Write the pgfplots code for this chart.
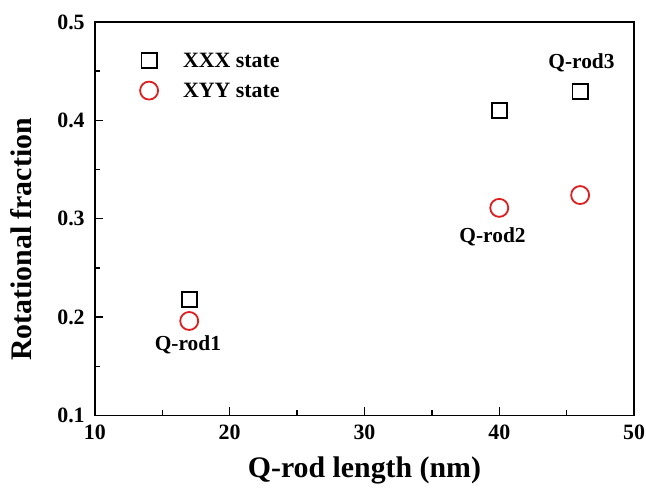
\documentclass[border=0pt]{standalone}
\usepackage{fontspec}
\setmainfont{Liberation Serif}
\usepackage{pgfplots}
\pgfplotsset{compat=1.18}
\definecolor{qred}{RGB}{222,30,30}
\begin{document}
\begin{tikzpicture}[x=1bp,y=1bp]
\begin{axis}[
    name=ax,
    scale only axis,
    width=540bp, height=394bp,
    xmin=10, xmax=50, ymin=0.1, ymax=0.5,
    xtick={10,20,30,40,50},
    ytick={0.1,0.2,0.3,0.4,0.5},
    yticklabel style={/pgf/number format/fixed,/pgf/number format/precision=1,
        inner sep=1bp, xshift=-9bp},
    xticklabel style={inner sep=1bp, yshift=-8.5bp},
    minor tick num=1,
    tick pos=left,
    tick align=inside,
    major tick length=8bp, minor tick length=5bp,
    axis line style={line width=1.6bp},
    every tick/.style={line width=1.4bp, black},
    /pgf/number format/assume math mode=true,
    tick label style={font=\fontsize{22}{24}\selectfont\bfseries},
    xlabel={Q-rod length (nm)},
    ylabel={Rotational fraction},
    label style={font=\fontsize{30}{32}\selectfont\bfseries, inner sep=1bp},
    xlabel style={at={(axis description cs:0.5,-0.157)}, anchor=base},
    ylabel style={at={(axis description cs:-0.117,0.447)}, anchor=base},
    legend style={draw=none, fill=none, at={(0.078,0.932)}, anchor=north west,
        font=\fontsize{22}{24}\selectfont\bfseries, row sep=10bp,
        legend cell align=left},
    legend image code/.code={\draw[#1] plot coordinates {(0.4cm,0cm)};},
]
\addplot[only marks, mark=square, mark size=7.6bp, black, line width=1.8bp]
    coordinates {(17,0.218) (40,0.41) (46,0.429)};
\addlegendentry{\hspace{23bp}XXX state}
\addplot[only marks, mark=o, mark size=9bp, qred, line width=1.8bp]
    coordinates {(17,0.196) (40,0.311) (46,0.324)};
\addlegendentry{\hspace{23bp}XYY state}
\node[font=\fontsize{21.5}{23}\selectfont\bfseries] at (axis cs:16.9,0.172) {Q-rod1};
\node[font=\fontsize{21.5}{23}\selectfont\bfseries] at (axis cs:39.5,0.2815) {Q-rod2};
\node[font=\fontsize{21.5}{23}\selectfont\bfseries] at (axis cs:46.1,0.458) {Q-rod3};
\end{axis}
\path ([yshift=22bp]ax.north west) ([yshift=-74bp]ax.south west)
      ([xshift=-95bp]ax.west);
\end{tikzpicture}
\end{document}
